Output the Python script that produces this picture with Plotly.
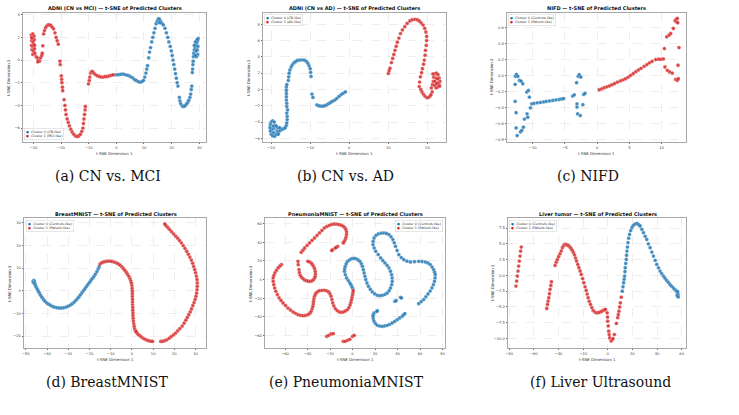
import plotly.graph_objects as go

W, H = 739, 415
BLUE = "#1f77b4"
RED = "#d62728"

# ---------------- data ----------------
A_C0 = [(-0.5,-1.3),(0.3,-1.3),(1.0,-1.28),(1.8,-1.25),(2.6,-1.25),(3.4,-1.3),(4.2,-1.35),(5.0,-1.45),(5.8,-1.55),
        (6.5,-1.7),(7.2,-1.8),(7.9,-1.9),(8.6,-1.95),(9.3,-1.9),(9.8,-1.8),(10.3,-1.5),(10.7,-1.15),(11.0,-0.8),
        (11.3,-0.5),(11.7,0.2),(12.0,0.7),(12.4,1.1),(12.8,1.6),(13.2,2.0),(13.6,2.4),(14.0,2.8),(14.4,3.2),
        (14.8,3.45),(15.2,3.65),(15.6,3.6),(16.0,3.4),(15.5,3.3),(16.4,3.25),(17.0,3.1),(17.6,2.8),(18.1,2.4),
        (18.6,2.0),(19.0,1.6),(19.5,1.2),(19.9,0.8),(20.2,0.4),(20.5,0.0),(20.8,-0.4),(21.1,-0.8),(21.4,-1.2),
        (21.7,-1.6),(22.0,-2.0),(22.3,-2.3),(22.8,-3.3),(23.0,-3.6),(23.3,-3.85),(23.8,-4.05),(24.3,-4.1),
        (24.8,-4.05),(25.3,-3.9),(25.8,-3.75),(26.2,-3.55),(26.6,-3.3),(26.9,-3.0),(27.1,-2.6),(27.3,-2.3),
        (27.5,-1.1),(27.6,-0.8),(27.7,-0.4),(27.8,-0.1),(27.9,0.3),(28.0,0.6),(28.2,0.9),(28.5,1.1),(28.8,1.3),
        (29.1,1.5),(29.4,1.7),(29.6,1.9),(29.2,1.8),(28.6,1.6),(28.2,1.3),(29.5,1.2),(29.3,0.9),(28.9,0.8),
        (29.4,0.5),(29.0,0.3),(28.5,0.4)]
A_C1 = [(-30.8,2.2),(-30.5,2.0),(-30.2,2.3),(-29.8,2.1),(-30.6,1.7),(-30.1,1.6),(-29.7,1.8),(-30.7,1.3),(-30.3,1.2),
        (-29.9,1.4),(-30.5,0.9),(-30.0,0.8),(-29.6,1.0),(-30.2,0.5),(-29.5,0.6),(-29.0,0.3),(-28.6,0.2),(-28.2,0.0),
        (-27.8,-0.1),(-28.4,-0.15),(-27.4,0.2),(-27.0,0.4),(-26.8,0.6),(-26.6,1.25),(-30.6,1.95),(-29.6,1.3),
        (-26.3,2.3),(-26.0,2.6),(-25.6,2.85),(-25.2,3.0),(-24.7,3.1),(-24.2,3.1),(-23.7,3.05),(-23.2,2.9),
        (-22.7,2.75),(-22.2,2.4),(-21.8,2.0),(-21.4,1.7),(-21.0,1.4),(-20.4,-0.1),(-20.3,-0.4),(-19.9,-1.4),
        (-19.8,-1.7),(-19.7,-2.0),(-19.5,-2.4),(-19.4,-2.7),(-18.9,-3.5),(-18.6,-4.0),(-18.4,-4.4),(-18.2,-4.8),
        (-17.8,-5.2),(-17.4,-5.5),(-17.0,-5.8),(-16.5,-6.1),(-16.0,-6.35),(-15.4,-6.55),(-14.8,-6.7),(-14.2,-6.75),
        (-13.6,-6.7),(-13.0,-6.55),(-12.5,-6.3),(-12.1,-6.0),(-11.9,-5.6),(-11.7,-5.2),(-11.5,-4.8),(-11.3,-4.4),
        (-11.2,-4.1),(-10.1,-2.1),(-9.8,-1.8),(-9.6,-1.5),(-9.3,-1.15),(-8.9,-1.0),(-8.5,-1.05),(-8.0,-1.2),
        (-7.4,-1.3),(-6.8,-1.4),(-6.1,-1.45),(-5.4,-1.5),(-4.7,-1.5),(-4.0,-1.45),(-3.3,-1.45),(-2.6,-1.4),
        (-1.9,-1.35),(-1.2,-1.3)]

B_C0 = [(-20.2,-4.3),(-20.0,-4.0),(-19.6,-3.85),(-19.2,-4.0),(-19.0,-4.4),(-19.3,-4.8),(-19.8,-4.9),(-20.2,-5.1),
        (-20.0,-5.5),(-19.6,-5.7),(-19.1,-5.75),(-18.7,-5.5),(-18.5,-5.1),(-18.3,-4.7),(-18.7,-4.5),(-19.5,-4.5),
        (-20.3,-4.7),(-19.4,-5.3),(-18.0,-5.2),(-17.6,-5.0),(-17.2,-4.9),(-16.8,-4.8),(-16.4,-4.7),(-16.1,-4.4),
        (-18.2,-5.5),(-17.8,-4.7),(-16.0,-4.1),(-15.9,-3.7),(-15.9,-3.3),(-16.0,-2.9),(-15.8,-2.5),(-16.0,-2.1),
        (-16.0,-1.7),(-16.1,-1.3),(-16.1,-0.9),(-16.1,-0.5),(-16.1,-0.1),(-16.1,0.3),(-16.0,0.6),(-15.6,1.1),
        (-15.5,1.55),(-15.4,2.0),(-15.2,2.4),(-14.9,2.75),(-14.6,3.0),(-14.2,3.25),(-13.8,3.4),(-13.3,3.55),
        (-12.7,3.6),(-12.1,3.62),(-11.5,3.6),(-11.0,3.45),(-10.6,3.2),(-10.3,2.9),(-10.0,2.55),(-9.9,2.1),
        (-9.8,1.6),(-9.55,-0.57),(-9.3,-0.98),(-8.3,-1.9),(-7.8,-2.0),(-7.3,-2.05),(-6.8,-2.05),(-6.3,-2.0),
        (-5.8,-1.9),(-5.3,-1.75),(-4.8,-1.6),(-4.3,-1.45),(-3.7,-1.3),(-3.2,-1.1),(-2.6,-0.85),(-2.0,-0.6),
        (-1.5,-0.45),(-1.0,-0.3)]
B_C1 = [(10.0,1.96),(10.2,2.3),(10.4,2.6),(10.8,3.3),(11.1,3.8),(11.4,4.3),(11.7,4.8),(12.0,5.3),(12.3,5.8),
        (12.7,6.3),(13.1,6.85),(13.6,7.3),(14.2,7.7),(14.8,8.1),(15.5,8.4),(16.1,8.55),(16.8,8.6),(17.4,8.55),
        (17.9,8.4),(18.4,8.15),(18.9,7.9),(19.3,7.5),(19.6,7.05),(19.8,6.5),(19.8,6.0),(19.7,5.4),(19.5,4.8),
        (19.4,4.2),(19.2,3.6),(19.0,3.1),(18.7,2.55),(18.5,2.05),(18.2,1.55),(18.0,0.9),(17.9,0.35),(18.3,0.0),
        (18.6,-0.3),(19.0,-0.6),(19.4,-0.85),(19.8,-1.0),(20.2,-1.0),(20.6,-0.85),(20.9,-0.65),(21.2,-0.3),
        (21.0,0.2),(21.3,0.6),(21.5,1.0),(21.6,1.5),(21.9,1.9),(22.3,2.0),(22.7,1.8),(23.0,1.4),(23.2,1.0),
        (23.0,0.6),(22.6,0.3),(22.2,0.2),(21.8,0.5),(21.9,1.0),(22.2,1.4),(22.6,1.3),(22.7,0.8),(22.3,0.7),
        (21.4,1.9),(23.1,0.4)]

C_C0 = [(-12.73,-0.108),(-12.73,-0.32),(-12.58,-0.46),(-12.58,-0.65),(-12.42,-0.745),(-12.68,-0.008),(-12.53,0.017),
        (-12.32,-0.008),(-12.06,-0.06),(-11.8,-0.067),(-11.55,-0.1),(-11.9,-0.70),(-11.7,-0.68),(-11.44,-0.64),
        (-11.29,-0.54),(-10.88,-0.475),(-10.77,-0.517),(-10.93,-0.204),(-10.67,-0.183),(-10.52,-0.267),
        (-10.36,-0.4),(-10.15,-0.35),(-9.8,-0.345),(-9.3,-0.338),(-8.8,-0.332),(-8.3,-0.326),(-7.9,-0.32),
        (-7.4,-0.314),(-6.9,-0.308),(-6.4,-0.302),(-5.9,-0.296),(-5.5,-0.29),(-5.2,-0.285),(-3.81,-0.254),
        (-3.56,-0.238),(-3.2,-0.0875),(-2.94,-0.008),(-2.78,0.0125),(-2.53,-0.017),(-3.14,-0.35),(-3.14,-0.39),
        (-3.04,-0.475),(-2.63,-0.496),(-2.22,-0.36),(-2.11,-0.233),(-1.9,-0.22)]
C_C1 = [(0.31,-0.175),(0.7,-0.163),(1.08,-0.15),(1.5,-0.138),(1.9,-0.127),(2.3,-0.113),(2.7,-0.097),(3.14,-0.08),
        (3.6,-0.065),(4.0,-0.052),(4.4,-0.038),(4.8,-0.018),(5.2,0.004),(5.6,0.027),(6.0,0.05),(6.4,0.072),
        (6.8,0.092),(7.27,0.117),(7.7,0.138),(8.1,0.16),(8.5,0.178),(9.07,0.2),(9.5,0.205),(9.85,0.204),
        (10.26,0.208),(10.41,0.3375),(10.5,0.108),(10.88,0.067),(11.24,0.046),(11.65,0.033),(12.16,-0.046),
        (12.42,-0.058),(12.58,-0.0375),(12.53,0.13),(12.68,0.35),(10.77,0.483),(11.13,0.504),(11.39,0.525),
        (11.8,0.5875),(12.06,0.683),(12.22,0.7),(12.42,0.7125),(12.3,0.67),(12.5,0.658)]

D_C0 = [(-46.6,4.2),(-46.2,4.6),(-45.9,4.0),(-46.4,3.6),(-45.8,3.2),(-45.5,2.5),(-45.1,1.6),(-44.6,0.7),(-44.1,-0.2),
        (-43.6,-1.0),(-43.0,-2.0),(-42.4,-2.9),(-41.7,-3.8),(-41.0,-4.6),(-40.2,-5.3),(-39.3,-5.9),(-38.4,-6.4),
        (-37.4,-6.9),(-36.4,-7.25),(-35.3,-7.5),(-34.2,-7.6),(-33.1,-7.6),(-32.0,-7.45),(-31.0,-7.2),(-30.0,-6.8),
        (-29.0,-6.3),(-28.1,-5.7),(-27.2,-5.0),(-26.4,-4.2),(-25.6,-3.4),(-24.9,-2.6),(-24.2,-1.7),(-23.5,-0.8),
        (-22.8,0.1),(-22.1,1.0),(-21.4,1.9),(-20.7,2.8),(-20.0,3.7),(-19.3,4.6),(-18.6,5.5),(-17.9,6.4),
        (-17.2,7.4),(-16.5,8.5),(-15.9,9.7),(-15.4,10.8)]
D_C1 = [(-15.0,11.9),(-14.2,12.4),(-13.3,12.75),(-12.3,13.0),(-11.3,13.1),(-10.3,13.1),(-9.3,12.95),(-8.3,12.7),
        (-7.3,12.35),(-6.4,11.9),(-5.5,11.3),(-4.7,10.6),(-4.0,9.8),(-3.3,9.0),(-2.6,8.1),(-2.0,7.2),(-1.4,6.3),
        (-0.9,5.3),(-0.5,4.3),(-0.2,3.3),(0.0,2.2),(0.1,1.0),(0.2,-0.2),(0.2,-1.4),(0.2,-2.6),(0.3,-3.8),
        (0.3,-5.0),(0.3,-6.2),(0.4,-7.4),(0.4,-8.6),(0.5,-9.8),(0.5,-11.0),(0.6,-12.2),(0.7,-13.4),(0.9,-14.6),
        (1.1,-15.8),(1.3,-16.9),(1.7,-17.8),(2.2,-18.5),(2.0,-18.0),(2.8,-19.1),(3.5,-19.7),(4.3,-20.3),
        (5.2,-20.9),(6.1,-21.4),(7.0,-21.8),(7.9,-22.1),(8.8,-22.3),(9.7,-22.4),
        (13.6,-22.4),(14.4,-22.35),(15.4,-22.1),(16.4,-21.7),(17.5,-21.0),(18.5,-20.3),(19.6,-19.5),(20.6,-18.7),
        (21.6,-17.7),(22.6,-16.7),(23.7,-15.6),(24.6,-14.3),(25.4,-13.0),(26.1,-11.8),(26.8,-10.6),(27.5,-9.3),
        (28.1,-8.0),(28.7,-6.6),(29.3,-5.2),(29.8,-3.8),(30.2,-2.4),(30.5,-1.0),(30.7,0.5),(30.8,2.0),(30.8,3.5),
        (30.7,5.0),(30.4,6.5),(30.0,8.0),(29.6,9.4),(29.1,10.8),(28.6,12.2),(28.0,13.6),(27.3,14.9),(26.6,16.2),
        (25.8,17.5),(25.0,18.8),(24.2,20.0),(23.3,21.2),(22.4,22.3),(21.5,23.3),(20.6,24.2),(19.6,25.2),
        (18.6,26.2),(17.7,27.2),(16.8,28.1),(16.0,28.9),(15.5,29.6)]

E_C0 = [(0.2,-9.5),(-0.6,-7.5),(-1.4,-5.5),(-2.4,-3.6),(-3.8,-0.9),(-5.3,1.8),(-6.4,5.3),(-7.2,8.9),(-7.0,11.6),
        (-6.5,14.3),(-5.6,17.0),(-4.4,19.6),(-2.5,21.3),(-0.6,22.5),(1.2,22.8),(2.9,22.5),(4.8,21.3),(6.5,19.6),
        (7.8,17.0),(8.8,14.3),(9.6,10.7),(10.3,7.1),(11.0,3.5),(11.8,0.0),(12.8,-3.6),(14.1,-7.1),(15.8,-10.3),
        (17.6,-13.2),(19.8,-15.3),(22.1,-16.8),(24.3,-17.2),(26.5,-16.8),(28.8,-15.8),(30.9,-14.3),(32.6,-11.8),
        (33.8,-8.9),(34.8,-5.4),(35.3,-1.8),(35.2,1.8),(34.7,5.4),(33.7,9.0),(32.4,12.5),(30.7,15.3),(28.8,17.9),
        (26.9,20.5),(25.0,23.2),(22.8,26.8),(20.6,30.4),(19.2,34.0),(18.2,37.5),(18.3,41.0),(19.1,44.6),
        (20.8,47.3),(22.9,48.9),(25.4,49.8),(27.9,50.0),(30.2,49.4),(32.4,48.2),(34.3,45.8),(35.9,42.9),
        (37.1,39.4),(38.2,35.7),(39.6,31.2),(41.2,26.8),(43.3,23.6),(45.6,21.4),(48.5,19.8),(51.5,18.9),
        (55.1,19.2),(58.8,19.6),(61.8,19.4),(64.7,18.9),(67.1,17.8),(69.1,16.1),(70.8,13.4),(72.1,10.7),
        (73.0,8.0),(73.5,5.4),(73.4,1.8),(72.9,-1.8),(71.9,-5.4),(70.6,-8.9),(69.0,-12.2),(67.1,-15.4),
        (65.2,-18.4),(63.2,-21.4),(61.0,-23.6),(58.8,-25.7),
        (19.1,-35.7),(18.4,-37.5),(18.2,-39.3),(18.5,-42.0),(19.1,-44.6),(20.4,-47.0),(22.1,-48.9),(24.3,-49.7),
        (26.5,-50.0),(28.7,-49.6),(30.9,-48.9),(33.1,-47.8),(35.3,-46.4),(37.5,-44.7),(39.7,-42.9),(41.9,-41.1),
        (44.1,-39.3),(45.3,-37.8),(46.5,-36.4),(22.1,-33.2),(21.6,-34.0),
        (37.6,-23.2),(38.8,-22.5),(42.6,-18.9),(43.5,-19.6)]
E_C1 = [(-45.6,29.3),(-44.1,31.6),(-42.6,33.9),(-40.4,36.6),(-38.2,39.3),(-36.0,42.0),(-33.8,44.6),(-31.6,47.3),
        (-29.4,50.0),(-27.2,52.7),(-25.0,55.4),(-22.8,57.0),(-20.6,58.2),(-18.4,59.1),(-16.2,59.6),(-14.0,59.4),
        (-11.8,58.9),(-9.8,58.2),(-8.2,57.1),(-6.8,55.5),(-5.9,53.6),(-5.3,51.0),(-5.3,48.2),(-5.8,45.5),
        (-6.5,42.9),(-7.4,41.0),(-8.2,39.3),(-13.2,35.7),(-14.2,34.8),(-15.3,33.9),(-17.6,32.1),(-18.5,31.2),
        (-48.5,19.6),(-48.3,16.0),(-47.6,10.7),(-47.2,7.5),(-46.5,4.6),(-45.4,2.6),(-44.1,1.1),(-42.7,-0.3),
        (-41.2,-1.1),(-39.4,-1.7),(-37.6,-1.8),(-36.0,-1.2),(-34.7,0.0),(-33.7,1.8),(-33.2,3.6),(-33.0,6.2),
        (-33.2,8.9),(-33.8,11.8),(-34.7,14.3),(-35.7,16.3),(-36.8,17.9),(-38.2,19.0),(-39.7,19.6),
        (-63.2,16.1),(-64.7,14.4),(-66.2,12.5),(-67.7,9.8),(-69.1,7.1),(-70.0,4.4),(-70.6,1.8),(-70.5,-1.8),
        (-70.0,-5.4),(-69.2,-9.0),(-68.2,-12.5),(-66.8,-16.1),(-65.3,-19.6),(-63.6,-22.3),(-61.8,-25.0),
        (-59.6,-27.7),(-57.4,-30.4),(-55.2,-32.5),(-52.9,-34.6),(-50.7,-36.1),(-48.5,-37.5),(-46.3,-38.2),
        (-44.1,-38.6),(-41.9,-38.3),(-39.7,-37.5),(-38.0,-36.0),(-36.8,-33.9),(-35.9,-31.3),(-35.3,-28.6),
        (-34.9,-25.9),(-34.7,-23.2),(-34.3,-20.5),(-33.8,-17.9),(-33.2,-16.0),(-32.4,-14.3),(-30.9,-12.8),
        (-29.4,-11.8),(-27.2,-11.4),(-25.0,-11.4),(-23.0,-12.0),(-21.2,-13.2),(-20.0,-15.3),(-19.1,-17.9),
        (-18.3,-21.4),(-17.6,-25.0),(-16.6,-28.2),(-15.3,-31.1),(-13.6,-33.2),(-11.8,-34.6),(-10.0,-35.0),
        (-8.2,-34.6),(-6.3,-33.6),(-4.4,-32.1),(-3.1,-29.6),(-2.1,-26.8),(-1.4,-24.1),(-0.9,-21.4),(-0.4,-18.8),
        (0.0,-16.1),(0.4,-13.9),(0.6,-11.8),
        (-22.9,-60.7),(-21.2,-59.6),(-19.1,-58.2),(-17.1,-57.9),(-8.2,-66.0),(-6.5,-66.0),(-4.4,-65.0),
        (-2.4,-63.9),(0.0,-60.7),(1.5,-59.6)]

F_C0 = [(11.8,-2.49),(12.4,-1.8),(12.9,-1.16),(13.3,-0.6),(13.7,-0.1),(14.0,0.6),(14.2,1.22),(14.6,1.9),(15.1,2.54),
        (15.3,3.2),(15.6,3.86),(16.0,4.5),(16.4,5.19),(17.0,5.9),(17.7,6.5),(18.6,7.1),(19.6,7.57),(20.7,7.9),
        (21.8,8.1),(23.0,8.2),(24.2,8.2),(25.3,8.0),(26.3,7.83),(27.7,7.3),(29.0,6.77),(30.4,6.2),(31.7,5.71),
        (33.0,5.0),(34.4,4.39),(35.8,3.7),(37.1,3.07),(38.5,2.4),(39.8,1.75),(41.2,1.2),(42.5,0.69),(43.8,0.3),
        (45.2,-0.1),(46.5,-0.45),(47.8,-0.79),(49.2,-1.1),(50.5,-1.43),(51.8,-1.7),(53.2,-1.96),(54.3,-2.2),
        (55.4,-2.38),(56.5,-2.75),(56.7,-3.1),(56.0,-2.5),(56.8,-2.6),(57.0,-3.0),(56.3,-3.2),(57.2,-3.4)]
F_C1 = [(-74.5,-1.69),(-73.9,-0.9),(-73.4,-0.1),(-72.8,0.69),(-72.3,1.48),(-71.8,2.28),(-71.2,3.07),(-70.7,3.86),
        (-70.2,4.5),
        (-49.5,-5.24),(-48.9,-4.6),(-48.4,-4.07),(-47.8,-3.54),(-47.3,-2.9),(-46.8,-2.2),(-46.2,-1.6),(-45.7,-1.0),
        (-42.7,1.59),(-41.8,2.1),(-40.9,2.54),(-39.8,3.0),(-38.7,3.44),(-37.7,3.9),(-36.8,4.39),(-35.8,4.7),
        (-34.9,4.92),(-33.8,4.9),(-32.8,4.81),(-31.7,4.7),(-30.6,4.5),(-29.7,4.25),(-28.8,3.97),(-27.8,3.6),
        (-26.9,3.23),(-26.1,2.75),(-25.3,2.28),(-24.3,1.75),(-23.4,1.22),(-22.4,0.7),(-21.5,0.16),(-20.4,-0.5),
        (-19.4,-1.16),(-18.4,-1.8),(-17.5,-2.38),(-16.7,-2.95),(-15.9,-3.54),(-15.0,-4.1),(-14.0,-4.6),
        (-12.9,-5.1),(-11.8,-5.56),(-10.4,-5.8),(-9.1,-5.93),(-7.8,-5.9),(-6.5,-5.82),(-5.1,-5.7),(-3.8,-5.56),
        (-2.8,-5.45),(-1.9,-5.4),(-0.5,-5.93),(-0.2,-6.6),(0.0,-7.25),(0.4,-8.0),(0.8,-8.84),(1.2,-9.4),
        (1.6,-9.9),(2.7,-10.4),(3.5,-10.2),(4.3,-10.0),(5.4,-9.37),
        (7.0,-7.6),(8.1,-6.7),(8.6,-6.2),(9.1,-5.66),(9.7,-5.0),(10.2,-4.34),(11.0,-3.44)]

CLUSTER0 = [A_C0, B_C0, C_C0, D_C0, E_C0, F_C0]
CLUSTER1 = [A_C1, B_C1, C_C1, D_C1, E_C1, F_C1]

TITLES = ["ADNI (CN vs MCI) — t-SNE of Predicted Clusters",
          "ADNI (CN vs AD) — t-SNE of Predicted Clusters",
          "NIFD — t-SNE of Predicted Clusters",
          "BreastMNIST — t-SNE of Predicted Clusters",
          "PneumoniaMNIST — t-SNE of Predicted Clusters",
          "Liver tumor — t-SNE of Predicted Clusters"]
CAPTIONS = ["(a) CN vs. MCI", "(b) CN vs. AD", "(c) NIFD",
            "(d) BreastMNIST", "(e) PneumoniaMNIST", "(f) Liver Ultrasound"]
LEG0 = ["Cluster 0 (CN-like)", "Cluster 0 (CN-like)"] + ["Cluster 0 (Controls-like)"] * 4
LEG1 = ["Cluster 1 (MCI-like)", "Cluster 1 (AD-like)"] + ["Cluster 1 (Patient-like)"] * 4

XTICKS = [[-30, -20, -10, 0, 10, 20, 30],
          [-20, -10, 0, 10, 20],
          [-10, -5, 0, 5, 10],
          [-50, -40, -30, -20, -10, 0, 10, 20, 30],
          [-60, -40, -20, 0, 20, 40, 60, 80],
          [-80, -60, -40, -20, 0, 20, 40, 60]]
YTICKS = [[-6, -4, -2, 0, 2, 4],
          [-6, -4, -2, 0, 2, 4, 6, 8],
          [-0.8, -0.6, -0.4, -0.2, 0.0, 0.2, 0.4, 0.6],
          [-20, -10, 0, 10, 20, 30],
          [-60, -40, -20, 0, 20, 40, 60],
          [-10.0, -7.5, -5.0, -2.5, 0.0, 2.5, 5.0, 7.5]]
YTICK_FMT = ["{:.0f}", "{:.0f}", "{:.1f}", "{:.0f}", "{:.0f}", "{:.1f}"]

# ---------------- layout (pixels) ----------------
FRAMES = [(20, 13, 204, 142), (261, 13, 445, 142), (506, 13, 686, 142),
          (21, 218, 204, 348), (263, 218, 444, 348), (507, 218, 686, 348)]
XR = [(-33.8, 32.5), (-22.1, 24.8), (-14.0, 13.8), (-50.9, 35.0), (-77.9, 82.4), (-81.0, 63.7)]
YR = [(-7.23, 4.15), (-6.45, 9.38), (-0.825, 0.78), (-25.3, 32.2), (-73.2, 66.0), (-11.5, 9.1)]
TITLE_POS = [(112, 8), (353, 8), (596, 8), (113, 214), (354, 214), (597, 214)]
XLAB_POS = [(112, 153), (353, 153), (596, 153), (113, 359), (354, 359), (597, 359)]
YLAB_POS = [(6, 77), (247, 77), (491, 77), (6, 283), (248, 283), (491, 283)]
CAP_POS = [(105, 176), (344, 176), (587, 176), (104, 382), (345, 382), (600, 382)]
# legend anchor (x, y, xanchor, yanchor)
LEG_POS = [(21, 140, "left", "bottom"), (262, 14, "left", "top"), (507, 14, "left", "top"),
           (23, 220, "left", "top"), (442, 220, "right", "top"), (508, 220, "left", "top")]


def fx(px):
    return px / W


def fy(py):
    return 1 - py / H


def fmt(v):
    return ("{:.0f}".format(v)).replace("-", "\u2212")


fig = go.Figure()
annotations = []
layout_axes = {}

for i in range(6):
    n = "" if i == 0 else str(i + 1)
    xa, ya = "x" + n, "y" + n
    for data, col in ((CLUSTER0[i], BLUE), (CLUSTER1[i], RED)):
        xs = [p[0] for p in data]
        ys = [p[1] for p in data]
        fig.add_trace(go.Scatter(x=xs, y=ys, mode="markers", xaxis=xa, yaxis=ya, showlegend=False,
                                 marker=dict(size=3.8, color=col, opacity=0.85,
                                             line=dict(width=0.3, color="white"))))
    l, t, r, b = FRAMES[i]
    common = dict(showline=True, mirror=True, linecolor="#a8a8a8", linewidth=1.1,
                  showgrid=True, gridcolor="#eeeeee", gridwidth=0.5, griddash="dash",
                  zeroline=False, ticks="outside", ticklen=1.2, tickwidth=0.5, tickcolor="#666",
                  tickfont=dict(size=3.7, color="#444", family="DejaVu Sans"))
    layout_axes["xaxis" + n] = dict(domain=[fx(l), fx(r)], range=list(XR[i]), anchor=ya,
                                    tickvals=XTICKS[i], ticktext=[fmt(v) for v in XTICKS[i]], **common)
    layout_axes["yaxis" + n] = dict(domain=[fy(b), fy(t)], range=list(YR[i]), anchor=xa,
                                    tickvals=YTICKS[i],
                                    ticktext=[YTICK_FMT[i].format(v).replace("-", "\u2212") for v in YTICKS[i]],
                                    **common)
    tx, ty = TITLE_POS[i]
    annotations.append(dict(x=fx(tx), y=fy(ty), xref="paper", yref="paper", showarrow=False,
                             text="<b>" + TITLES[i] + "</b>", xanchor="center", yanchor="middle",
                             font=dict(size=5.0, color="#111", family="DejaVu Sans")))
    lx, ly = XLAB_POS[i]
    annotations.append(dict(x=fx(lx), y=fy(ly), xref="paper", yref="paper", showarrow=False,
                             text="t-SNE Dimension 1", xanchor="center", yanchor="middle",
                             font=dict(size=3.9, color="#333", family="DejaVu Sans")))
    yx, yy = YLAB_POS[i]
    annotations.append(dict(x=fx(yx), y=fy(yy), xref="paper", yref="paper", showarrow=False,
                             text="t-SNE Dimension 2", textangle=-90, xanchor="center", yanchor="middle",
                             font=dict(size=3.9, color="#333", family="DejaVu Sans")))
    cx, cy = CAP_POS[i]
    annotations.append(dict(x=fx(cx), y=fy(cy), xref="paper", yref="paper", showarrow=False,
                             text=CAPTIONS[i], xanchor="center", yanchor="middle",
                             font=dict(size=14, color="#111", family="DejaVu Serif")))
    gx, gy, gxa, gya = LEG_POS[i]
    leg_text = ('<span style="color:%s">●</span>  %s<br><span style="color:%s">●</span>  %s'
                % (BLUE, LEG0[i], RED, LEG1[i]))
    annotations.append(dict(x=fx(gx), y=fy(gy), xref="paper", yref="paper", showarrow=False,
                             text=leg_text, xanchor=gxa, yanchor=gya, align="left",
                             bgcolor="rgba(255,255,255,0.85)", bordercolor="#cfcfcf", borderwidth=0.5,
                             borderpad=1.5, font=dict(size=3.3, color="#333", family="DejaVu Sans")))

fig.update_layout(width=W, height=H, margin=dict(l=0, r=0, t=0, b=0),
                  paper_bgcolor="white", plot_bgcolor="white", showlegend=False,
                  annotations=annotations, **layout_axes)

fig.write_html("out.html")
